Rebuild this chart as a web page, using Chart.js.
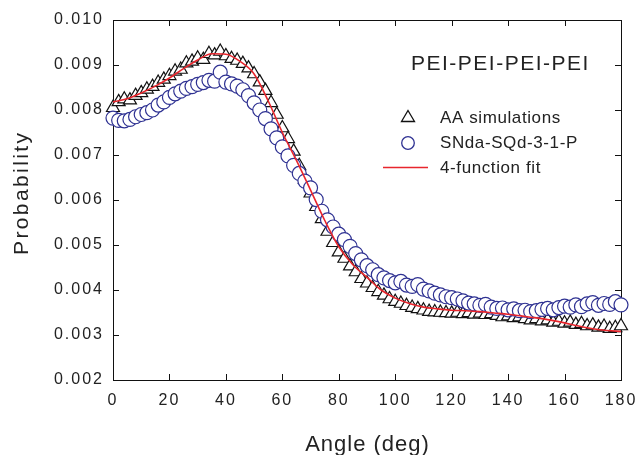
<!DOCTYPE html>
<html>
<head>
<meta charset="utf-8">
<script src="https://cdn.jsdelivr.net/npm/chart.js@4.4.1/dist/chart.umd.min.js"></script>
<style>
    html, body { margin: 0; padding: 0; background: #fff; }
</style>
</head>
<body>
<canvas id="chart" width="635" height="455"></canvas>
<script>
// angles (deg) shared by both simulation series
var angles = [0, 2, 4, 6, 8, 10, 12, 14, 16, 18, 20, 22, 24, 26, 28, 30, 32, 34, 36, 38,
    40, 42, 44, 46, 48, 50, 52, 54, 56, 58, 60, 62, 64, 66, 68, 70, 72, 74, 76, 78,
    80, 82, 84, 86, 88, 90, 92, 94, 96, 98, 100, 102, 104, 106, 108, 110, 112, 114, 116, 118,
    120, 122, 124, 126, 128, 130, 132, 134, 136, 138, 140, 142, 144, 146, 148, 150, 152, 154, 156, 158,
    160, 162, 164, 166, 168, 170, 172, 174, 176, 178, 180];

var aaValues = [0.00805, 0.00818, 0.00824, 0.00822, 0.00832, 0.00838, 0.00846, 0.00852, 0.00861, 0.00868,
    0.00876, 0.00886, 0.00890, 0.00904, 0.00908, 0.00915, 0.00912, 0.00925, 0.00922, 0.00930,
    0.00920, 0.00914, 0.00910, 0.00903, 0.00893, 0.00880, 0.00862, 0.00843, 0.00816, 0.00790,
    0.00760, 0.00736, 0.00708, 0.00676, 0.00645, 0.00615, 0.00585, 0.00558, 0.00530, 0.00505,
    0.00484, 0.00470, 0.00453, 0.00440, 0.00425, 0.00415, 0.00405, 0.00396, 0.00388, 0.00380,
    0.00374, 0.00370, 0.00365, 0.00361, 0.00358, 0.00355, 0.00352, 0.00351, 0.00350, 0.00349,
    0.00348, 0.00350, 0.00347, 0.00349, 0.00346, 0.00348, 0.00345, 0.00347, 0.00343, 0.00340,
    0.00342, 0.00338, 0.00340, 0.00336, 0.00333, 0.00336, 0.00331, 0.00333, 0.00328, 0.00330,
    0.00326, 0.00328, 0.00323, 0.00325, 0.00320, 0.00322, 0.00317, 0.00319, 0.00314, 0.00316,
    0.00320];

var sndaValues = [0.00782, 0.00777, 0.00776, 0.00779, 0.00785, 0.00790, 0.00794, 0.00800, 0.00811, 0.00818,
    0.00828, 0.00836, 0.00842, 0.00848, 0.00852, 0.00857, 0.00861, 0.00866, 0.00864, 0.00884,
    0.00862, 0.00858, 0.00853, 0.00845, 0.00832, 0.00816, 0.00800, 0.00781, 0.00758, 0.00738,
    0.00718, 0.00698, 0.00677, 0.00659, 0.00642, 0.00627, 0.00601, 0.00575, 0.00556, 0.00540,
    0.00524, 0.00512, 0.00497, 0.00481, 0.00467, 0.00454, 0.00445, 0.00434, 0.00427, 0.00421,
    0.00416, 0.00419, 0.00411, 0.00408, 0.00412, 0.00402, 0.00398, 0.00393, 0.00389, 0.00385,
    0.00383, 0.00380, 0.00376, 0.00371, 0.00369, 0.00366, 0.00368, 0.00362, 0.00359, 0.00360,
    0.00356, 0.00358, 0.00354, 0.00355, 0.00352, 0.00354, 0.00357, 0.00359, 0.00356, 0.00361,
    0.00364, 0.00362, 0.00367, 0.00363, 0.00369, 0.00372, 0.00366, 0.00370, 0.00368, 0.00374,
    0.00367];

// 4-function fit, sampled every 5 deg
var fitAngles = [0, 5, 10, 15, 20, 25, 30, 35, 40, 45, 50, 55, 60, 65, 70, 75, 80, 85, 90,
    95, 100, 105, 110, 115, 120, 125, 130, 135, 140, 145, 150, 155, 160, 165, 170, 175, 180];
var fitValues = [0.00818, 0.00825, 0.00838, 0.00853, 0.00871, 0.00892, 0.00911, 0.00925, 0.00924, 0.00908,
    0.00880, 0.00820, 0.00750, 0.00688, 0.00622, 0.00555, 0.00496, 0.00456, 0.00428,
    0.00400, 0.00382, 0.00370, 0.00362, 0.00358, 0.00355, 0.00354, 0.00352, 0.00349, 0.00346,
    0.00342, 0.00338, 0.00333, 0.00327, 0.00320, 0.00314, 0.00310, 0.00308];

var seriesNames = ["AA simulations", "SNda-SQd-3-1-P", "4-function fit"];
var plotTitle = "PEI-PEI-PEI-PEI";

var FONT = "'Liberation Sans', Arial, sans-serif";
var BLUE = "#2e3192";
var RED = "#e8262d";

function toPoints(xs, ys) {
    var pts = [];
    for (let i = 0; i < xs.length; i++) {
        pts.push({ x: xs[i], y: ys[i] });
    }
    return pts;
}

function spacedText(ctx, text, x, y, spacing) {
    ctx.letterSpacing = spacing + "px";
    ctx.fillText(text, x, y);
}

// frame, inward ticks, title, legend and axis titles
var decor = {
    id: "decor",
    beforeDraw: function (chart) {
        chart.ctx.letterSpacing = "2px";
    },
    beforeDatasetsDraw: function (chart) {
        var ctx = chart.ctx;
        var a = chart.chartArea;
        var xs = chart.scales.x;
        var ys = chart.scales.y;
        ctx.save();
        ctx.strokeStyle = "#111";
        ctx.lineWidth = 1;
        ctx.strokeRect(Math.round(a.left) + 0.5, Math.round(a.top) + 0.5,
            Math.round(a.right - a.left), Math.round(a.bottom - a.top));
        ctx.beginPath();
        xs.ticks.forEach(function (t) {
            var px = Math.round(xs.getPixelForValue(t.value)) + 0.5;
            ctx.moveTo(px, a.bottom);
            ctx.lineTo(px, a.bottom - 6);
            ctx.moveTo(px, a.top);
            ctx.lineTo(px, a.top + 6);
        });
        ys.ticks.forEach(function (t) {
            var py = Math.round(ys.getPixelForValue(t.value)) + 0.5;
            ctx.moveTo(a.left, py);
            ctx.lineTo(a.left + 6, py);
            ctx.moveTo(a.right, py);
            ctx.lineTo(a.right - 6, py);
        });
        ctx.stroke();
        ctx.restore();
    },
    afterDatasetsDraw: function (chart) {
        var ctx = chart.ctx;
        var a = chart.chartArea;
        ctx.save();
        ctx.fillStyle = "#222";
        ctx.textBaseline = "alphabetic";

        // plot title
        ctx.textAlign = "left";
        ctx.font = "21px " + FONT;
        spacedText(ctx, plotTitle, 411, 70, 1.5);

        // legend
        ctx.font = "17px " + FONT;
        spacedText(ctx, seriesNames[0], 440, 123, 0.6);
        spacedText(ctx, seriesNames[1], 440, 148, 0.6);
        spacedText(ctx, seriesNames[2], 440, 173, 0.6);

        ctx.lineWidth = 1.3;
        ctx.strokeStyle = "#111";
        ctx.beginPath();
        ctx.moveTo(408, 110.5);
        ctx.lineTo(414.5, 121.5);
        ctx.lineTo(401.5, 121.5);
        ctx.closePath();
        ctx.stroke();

        ctx.strokeStyle = BLUE;
        ctx.beginPath();
        ctx.arc(408, 143, 6.3, 0, Math.PI * 2);
        ctx.stroke();

        ctx.strokeStyle = RED;
        ctx.lineWidth = 1.6;
        ctx.beginPath();
        ctx.moveTo(383, 167.5);
        ctx.lineTo(428, 167.5);
        ctx.stroke();

        // axis titles
        ctx.textAlign = "center";
        ctx.font = "22px " + FONT;
        spacedText(ctx, "Angle (deg)", (a.left + a.right) / 2 + 0.5, 451, 1);

        ctx.font = "21px " + FONT;
        ctx.translate(28, (a.top + a.bottom) / 2 - 6);
        ctx.rotate(-Math.PI / 2);
        spacedText(ctx, "Probability", 1.2, 0, 2.4);
        ctx.restore();
        ctx.letterSpacing = "2px";
    },
};

var ctx = document.getElementById("chart");
var chart = new Chart(ctx, {
    type: "scatter",
    data: {
        datasets: [
            {
                label: seriesNames[2],
                type: "line",
                data: toPoints(fitAngles, fitValues),
                borderColor: RED,
                borderWidth: 1.6,
                pointRadius: 0,
                cubicInterpolationMode: "monotone",
                fill: false,
                order: 0,
                clip: false,
            },
            {
                label: seriesNames[1],
                data: toPoints(angles, sndaValues),
                pointStyle: "circle",
                pointRadius: 7,
                borderWidth: 1.2,
                borderColor: BLUE,
                backgroundColor: "#ffffff",
                order: 1,
                clip: false,
            },
            {
                label: seriesNames[0],
                data: toPoints(angles, aaValues),
                pointStyle: "triangle",
                pointRadius: 7.5,
                borderWidth: 1.2,
                borderColor: "#111",
                backgroundColor: "#ffffff",
                order: 2,
                clip: false,
            },
        ],
    },
    options: {
        responsive: false,
        animation: false,
        events: [],
        layout: { padding: { top: 20, right: 14, left: 0, bottom: 0 } },
        plugins: {
            legend: { display: false },
            tooltip: { enabled: false },
        },
        scales: {
            x: {
                type: "linear",
                min: 0,
                max: 180,
                ticks: {
                    stepSize: 20,
                    color: "#222",
                    padding: 11,
                    maxRotation: 0,
                    font: { family: FONT, size: 16 },
                },
                grid: { display: false, drawTicks: false },
                border: { display: false },
                afterFit: function (s) {
                    s.height = 75;
                    s.paddingLeft = 0;
                    s.paddingRight = 0;
                },
            },
            y: {
                min: 0.002,
                max: 0.010,
                ticks: {
                    stepSize: 0.001,
                    color: "#222",
                    padding: 9,
                    font: { family: FONT, size: 16 },
                    callback: function (v) {
                        return v.toFixed(3);
                    },
                },
                grid: { display: false, drawTicks: false },
                border: { display: false },
                afterFit: function (s) {
                    s.width = 113;
                    s.paddingTop = 0;
                    s.paddingBottom = 0;
                },
            },
        },
    },
    plugins: [decor],
});
</script>
</body>
</html>
